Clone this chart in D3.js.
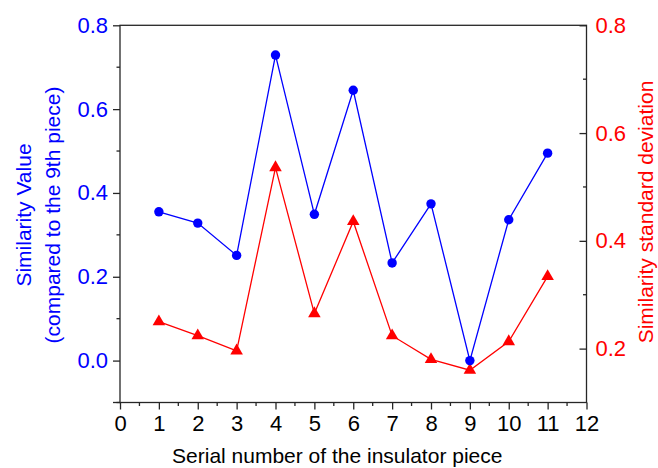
<!doctype html>
<html>
  <head>
    <meta charset="utf-8"/>
    <style>
      body { margin: 0; background: #fff; }
      svg { display: block; font-family: "Liberation Sans", Arial, sans-serif; }
    </style>
  </head>
  <body>
    <script src="https://cdn.jsdelivr.net/npm/d3@7"></script>
    <script>

      // serial number of the insulator piece
      const pieces = [1, 2, 3, 4, 5, 6, 7, 8, 9, 10, 11];
      // similarity value (compared to the 9th piece), left axis
      const similarity = [0.355, 0.328, 0.251, 0.729, 0.349, 0.645, 0.233, 0.374, 0.0, 0.336, 0.495];
      // similarity standard deviation, right axis
      const stdDev = [0.250, 0.224, 0.196, 0.536, 0.265, 0.436, 0.224, 0.180, 0.160, 0.213, 0.334];

      const xTicks = d3.range(0, 13);
      const leftTicks = [0.0, 0.2, 0.4, 0.6, 0.8];
      const rightTicks = [0.2, 0.4, 0.6, 0.8];

      const W = 658, H = 468;
      const plotL = 120, plotR = 586.5, plotT = 25.3, plotB = 402.5;
      const blue = '#0000ff', red = '#ff0000', ink = '#262626';

      const x = d3.scaleLinear().domain([0, 12]).range([plotL, plotR]);
      const yL = d3.scaleLinear().domain([-0.1, 0.8]).range([plotB, plotT]);
      const yR = d3.scaleLinear().domain([0.1, 0.8]).range([plotB, plotT]);

      const svg = d3.select('body').append('svg')
            .attr('width', W)
            .attr('height', H);

      // frame
      svg.append('rect')
        .attr('x', plotL).attr('y', plotT)
        .attr('width', plotR - plotL).attr('height', plotB - plotT)
        .attr('fill', 'none')
        .attr('stroke', ink)
        .attr('stroke-width', 1.3);

      const styleAxis = (g, color) => {
        g.select('.domain').remove();
        g.selectAll('.tick line').attr('stroke', ink).attr('stroke-width', 1.3);
        g.selectAll('.tick text')
          .attr('fill', color)
          .style('font-size', '22px')
          .style('font-family', '"Liberation Sans", Arial, sans-serif');
      };

      // minor ticks
      const minor = (g, vals, pos, len, horizontal) => {
        g.selectAll(null).data(vals).join('line')
          .attr('stroke', ink).attr('stroke-width', 1.3)
          .attr(horizontal ? 'x1' : 'y1', d => pos(d))
          .attr(horizontal ? 'x2' : 'y2', d => pos(d))
          .attr(horizontal ? 'y1' : 'x1', 0)
          .attr(horizontal ? 'y2' : 'x2', len);
      };

      const gx = svg.append('g')
            .attr('transform', `translate(0,${plotB})`)
            .call(d3.axisBottom(x).tickValues(xTicks).tickSize(7).tickPadding(6).tickFormat(d3.format('d')));
      styleAxis(gx, '#000');
      minor(gx, d3.range(0.5, 12, 1), x, 3.5, true);

      const gl = svg.append('g')
            .attr('transform', `translate(${plotL},0)`)
            .call(d3.axisLeft(yL).tickValues(leftTicks).tickSize(7).tickPadding(5).tickFormat(d3.format('.1f')));
      styleAxis(gl, blue);
      minor(gl, [-0.1, 0.1, 0.3, 0.5, 0.7], yL, -3.5, false);
      gl.append('line').attr('stroke', ink).attr('stroke-width', 1.3)
        .attr('x1', -7).attr('x2', 0).attr('y1', yL(-0.1)).attr('y2', yL(-0.1));

      const gr = svg.append('g')
            .attr('transform', `translate(${plotR},0)`)
            .call(d3.axisRight(yR).tickValues(rightTicks).tickSizeInner(-7).tickSizeOuter(0).tickPadding(9).tickFormat(d3.format('.1f')));
      styleAxis(gr, red);
      minor(gr, [0.3, 0.5, 0.7], yR, -3.5, false);

      // series
      const blueLine = d3.line().x((d, i) => x(pieces[i])).y(d => yL(d));
      const redLine = d3.line().x((d, i) => x(pieces[i])).y(d => yR(d));

      svg.append('path').datum(stdDev)
        .attr('d', redLine).attr('fill', 'none')
        .attr('stroke', red).attr('stroke-width', 1.3);
      svg.append('path').datum(similarity)
        .attr('d', blueLine).attr('fill', 'none')
        .attr('stroke', blue).attr('stroke-width', 1.3);

      svg.append('g').selectAll('path').data(stdDev).join('path')
        .attr('d', d3.symbol(d3.symbolTriangle, 68))
        .attr('transform', (d, i) => `translate(${x(pieces[i])},${yR(d)})`)
        .attr('fill', red);

      svg.append('g').selectAll('circle').data(similarity).join('circle')
        .attr('cx', (d, i) => x(pieces[i]))
        .attr('cy', d => yL(d))
        .attr('r', 4.7)
        .attr('fill', blue);

      // axis titles
      svg.append('text')
        .attr('x', (plotL + plotR) / 2 - 16).attr('y', 463)
        .attr('text-anchor', 'middle')
        .style('font-size', '21px')
        .attr('fill', '#000')
        .text('Serial number of the insulator piece');

      const lt = svg.append('text')
        .attr('transform', 'translate(0,215) rotate(-90)')
        .attr('text-anchor', 'middle')
        .style('font-size', '21px')
        .attr('fill', blue);
      lt.append('tspan').attr('x', 0).attr('y', 31).text('Similarity Value');
      lt.append('tspan').attr('x', 0).attr('y', 60).text('(compared to the 9th piece)');

      svg.append('text')
        .attr('transform', 'translate(652.5,212) rotate(-90)')
        .attr('text-anchor', 'middle')
        .style('font-size', '21px')
        .attr('fill', red)
        .text('Similarity standard deviation');

    </script>
  </body>
</html>
